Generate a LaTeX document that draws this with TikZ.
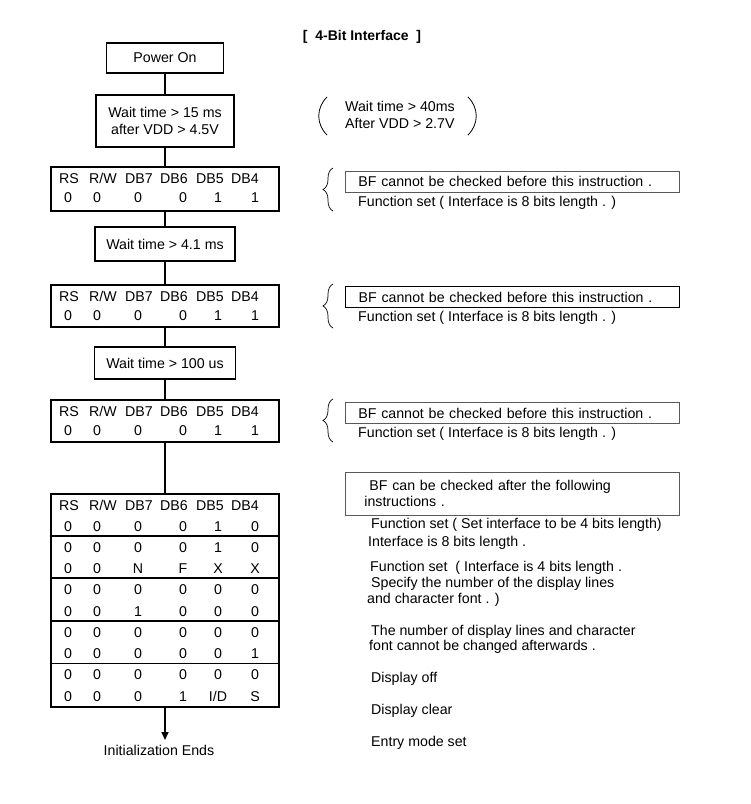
\documentclass[tikz,border=0pt]{standalone}
\usepackage{fontspec}
\setmainfont{Liberation Sans}
\usetikzlibrary{arrows.meta,decorations.pathreplacing}
\newcommand{\bodysize}{\fontsize{14.2}{16.5}\selectfont}
\newcommand{\hdrrow}[2]{\foreach \ct [count=\ci] in {RS,R/W,DB7,DB6,DB5,DB4}{
    \pgfmathsetmacro{\cx}{{69,103,139,174,210,245}[\ci-1]}
    \node[cell] (#1-\ci) at (\cx,#2) {\ct};}}
\newcommand{\bitrow}[3]{\foreach \cv [count=\ci] in {#3}{
    \pgfmathsetmacro{\cx}{{68,97,138,183,218,255}[\ci-1]}
    \node[cell] (#1-\ci) at (\cx,#2) {\cv};}}

\begin{document}
\begin{tikzpicture}[x=1pt,y=-1pt,
    box/.style={draw,line width=1.6pt,align=center,inner sep=0pt,font=\bodysize},
    regs/.style={draw,line width=1.6pt,minimum width=228pt,inner sep=0pt},
    cell/.style={inner sep=0pt,text height=10.2pt,text depth=0pt,font=\bodysize},
    note/.style={draw=black!65,line width=0.8pt,minimum width=334pt,minimum height=21pt,
      text width=308pt,inner xsep=13pt,inner ysep=0pt,align=left,anchor=west,font=\bodysize},
    plain/.style={inner sep=0pt,align=left,anchor=west,font=\bodysize},
    link/.style={line width=1.6pt},
    rule/.style={line width=1.6pt},
    curl/.style={decorate,decoration={brace,amplitude=10pt},line width=0.7pt},
    paren/.style={line width=0.8pt}
]
\useasboundingbox (0,0) rectangle (751,804);

\node[font=\fontsize{14}{16}\selectfont\bfseries] (title) at (362,37) {[~~4-Bit Interface~~]};

\node[box,minimum width=117pt,minimum height=30pt] (pwr) at (165,58) {Power On};
\node[box,minimum width=138pt,minimum height=52pt] (w15) at (165,121)
  {Wait time > 15 ms\\after VDD > 4.5V};
\node[regs,minimum height=44pt] (t1) at (165,189) {};
\node[box,minimum width=140pt,minimum height=34pt] (w41) at (165,244) {Wait time > 4.1 ms};
\node[regs,minimum height=42pt] (t2) at (165,306) {};
\node[box,minimum width=141pt,minimum height=32pt] (w100) at (165,363) {Wait time > 100 us};
\node[regs,minimum height=42pt] (t3) at (165,421) {};
\node[regs,minimum height=213pt] (t4) at (165,600.5) {};
\coordinate (done) at (165,740);
\node[cell] (ends) at (159,750) {Initialization Ends};

\hdrrow{h1}{178}
\bitrow{v1}{197}{0,0,0,0,1,1}
\hdrrow{h2}{296}
\bitrow{v2}{315}{0,0,0,0,1,1}
\hdrrow{h3}{411}
\bitrow{v3}{430}{0,0,0,0,1,1}
\hdrrow{h4}{505}
\bitrow{r1}{526}{0,0,0,0,1,0}
\bitrow{r2}{547}{0,0,0,0,1,0}
\bitrow{r3}{568}{0,0,N,F,X,X}
\bitrow{r4}{589}{0,0,0,0,0,0}
\bitrow{r5}{611}{0,0,1,0,0,0}
\bitrow{r6}{632}{0,0,0,0,0,0}
\bitrow{r7}{653}{0,0,0,0,0,1}
\bitrow{r8}{674}{0,0,0,0,0,0}
\bitrow{r9}{696}{0,0,0,1,I/D,S}

\draw[rule] (t4.north west) ++(0,43) -- ++(228,0);
\draw[rule] (t4.north west) ++(0,85) -- ++(228,0);
\draw[rule] (t4.north west) ++(0,128) -- ++(228,0);
\draw[line width=0.8pt] (t4.north west) ++(0,170) -- ++(228,0);

\draw[link] (pwr) -- (w15);
\draw[link] (w15) -- (t1);
\draw[link] (t1) -- (w41);
\draw[link] (w41) -- (t2);
\draw[link] (t2) -- (w100);
\draw[link] (w100) -- (t3);
\draw[link] (t3) -- (t4);
\draw[link,-{Triangle[length=8pt,width=7pt]}] (t4) -- (done);

\node[plain,align=left] (vdd) at (345,115) {Wait time > 40ms\\After VDD > 2.7V};
\draw[paren] (327,97) .. controls (316,108) and (316,124) .. (327,135);
\draw[paren] (468,97) .. controls (479,108) and (479,124) .. (468,135);

\draw[curl] (333,211) -- (333,168);
\node[note] (bf1) at (345,181.5) {BF cannot be checked before this instruction .};
\node[plain] (fs1) at (358,203) {Function set ( Interface is 8 bits length . )};

\draw[curl] (333,328) -- (333,284);
\node[note,draw=black,line width=1.4pt] (bf2) at (345,297) {BF cannot be checked before this instruction .};
\node[plain] (fs2) at (358,318) {Function set ( Interface is 8 bits length . )};

\draw[curl] (333,442) -- (333,399);
\node[note] (bf3) at (345,413) {BF cannot be checked before this instruction .};
\node[plain] (fs3) at (358,434) {Function set ( Interface is 8 bits length . )};

\node[note,text width=296pt,inner xsep=19pt,minimum height=43pt] (bfok) at (345,493.5)
  {\hspace*{5pt}BF can be checked after the following\\instructions .};
\node[plain,font=\fontsize{14.2}{18}\selectfont] (fs4) at (368,534)
  {\hspace*{3pt}Function set ( Set interface to be 4 bits length)\\Interface is 8 bits length .};
\node[plain,font=\fontsize{14.2}{16}\selectfont] (fsn) at (367,584)
  {\hspace*{3pt}Function set \ ( Interface is 4 bits length .\\\hspace*{4pt}Specify the number of the display lines\\and character font . )};
\node[plain,font=\fontsize{14.2}{15}\selectfont] (lock) at (369,639.5)
  {\hspace*{2pt}The number of display lines and character\\font cannot be changed afterwards .};
\node[plain] (doff) at (371,679) {Display off};
\node[plain] (dclr) at (371,711) {Display clear};
\node[plain] (emode) at (371,743) {Entry mode set};
\end{tikzpicture}
\end{document}
